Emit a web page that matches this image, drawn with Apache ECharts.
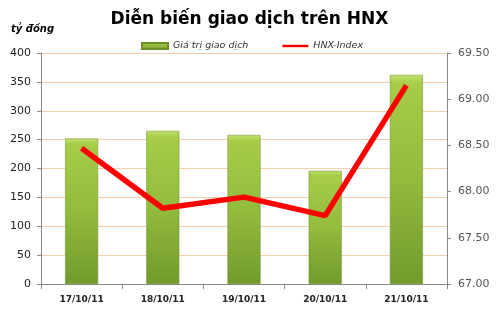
<!DOCTYPE html>
<html><head><meta charset="utf-8">
<script src="https://cdn.jsdelivr.net/npm/echarts@6/dist/echarts.min.js"></script>
<style>html,body{margin:0;padding:0;background:#fff}#c{width:499px;height:317px}</style>
</head><body><div id="c"></div>
<script>
const categories = ['17/10/11','18/10/11','19/10/11','20/10/11','21/10/11'];
const tradeValue = [252, 265, 258, 196, 362];
const hnxIndex = [68.47, 67.82, 67.94, 67.74, 69.15];
const leftTicks = [0, 400, 50];
const rightTicks = [67, 69.5, 0.5];

const chart = echarts.init(document.getElementById('c'));
chart.setOption({
  animation: false,
  title: [{
    text: 'Diễn biến giao dịch trên HNX', left: 'center', top: 6,
    textStyle: {fontFamily: 'DejaVu Sans', fontWeight: 'bold', fontSize: 17, color: '#000'}
  }, {
    text: 'tỷ đồng', left: 6, top: 19,
    textStyle: {fontFamily: 'DejaVu Sans', fontWeight: 'bold', fontStyle: 'italic', fontSize: 10, color: '#000'}
  }],
  legend: {
    top: 36, left: 136, itemGap: 34, itemWidth: 26, itemHeight: 6, symbolKeepAspect: true,
    textStyle: {fontFamily: 'DejaVu Sans', fontStyle: 'italic', fontSize: 9.5, color: '#333'},
    data: [{name: 'Giá trị giao dịch', icon: 'rect'},
           {name: 'HNX-Index', icon: 'path://M0,0 L26,0 L26,2.4 L0,2.4 Z', itemStyle: {color: '#e00'}}]
  },
  grid: {left: 41, right: 52, top: 53, bottom: 33},
  xAxis: {
    type: 'category', data: categories,
    axisLine: {lineStyle: {color: '#888'}},
    axisTick: {show: true, alignWithLabel: false, length: 5, lineStyle: {color: '#888'}},
    axisLabel: {fontFamily: 'DejaVu Sans', fontWeight: 'bold', fontSize: 9, color: '#222', margin: 11}
  },
  yAxis: [{
    type: 'value', min: leftTicks[0], max: leftTicks[1], interval: leftTicks[2],
    axisLine: {show: true, lineStyle: {color: '#888'}},
    axisTick: {show: true, length: 4, lineStyle: {color: '#888'}},
    splitLine: {lineStyle: {color: '#f3cfae'}},
    axisLabel: {fontFamily: 'DejaVu Sans', fontSize: 11, color: '#222', margin: 10}
  }, {
    type: 'value', min: rightTicks[0], max: rightTicks[1], interval: rightTicks[2],
    position: 'right',
    axisLine: {show: true, lineStyle: {color: '#888'}},
    axisTick: {show: true, length: 4, lineStyle: {color: '#888'}},
    splitLine: {show: false},
    axisLabel: {fontFamily: 'DejaVu Sans', fontSize: 11, color: '#555', margin: 11,
      formatter: v => v.toFixed(2)}
  }],
  series: [{
    name: 'Giá trị giao dịch', type: 'bar', data: tradeValue, barWidth: 33,
    itemStyle: {
      borderColor: '#6b8f24', borderWidth: 0.5,
      color: new echarts.graphic.LinearGradient(0, 0, 0, 1, [
        {offset: 0, color: '#c2e06a'}, {offset: 0.04, color: '#a6cc48'},
        {offset: 0.5, color: '#93bb3d'}, {offset: 1, color: '#729a2c'}])
    }
  }, {
    name: 'HNX-Index', type: 'line', yAxisIndex: 1, data: hnxIndex,
    symbol: 'none', lineStyle: {color: '#f00', width: 5.5}, itemStyle: {color: '#f00'}
  }]
});
</script></body></html>
